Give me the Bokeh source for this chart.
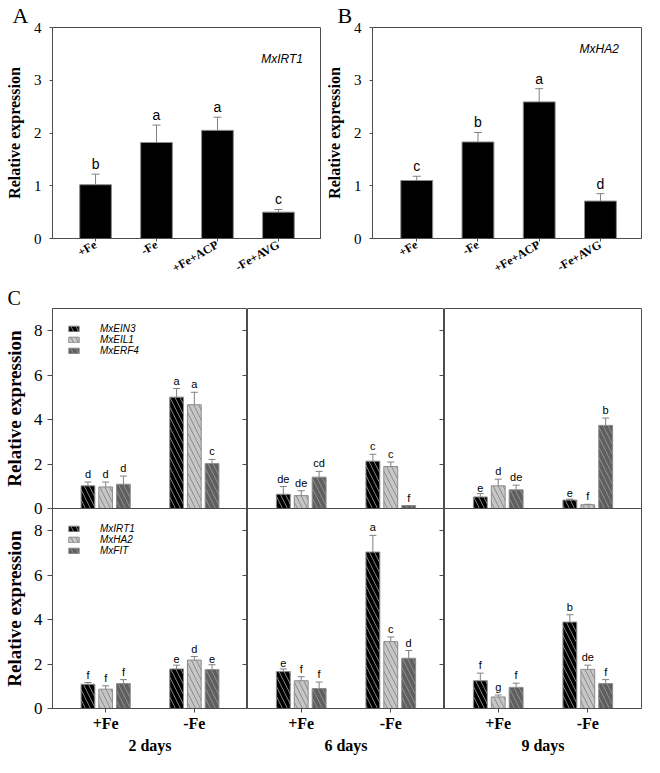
import math
from bokeh.plotting import figure
from bokeh.models import (Range1d, FixedTicker, LinearAxis, Whisker, TeeHead, Span,
                          ColumnDataSource, Label, Legend, LegendItem)
from bokeh.layouts import column, row
from bokeh.embed import file_html
from bokeh.resources import INLINE
from bokeh.core.properties import value

# ---------------- data: panels A and B ----------------
treatments = ["+Fe", "-Fe", "+Fe+ACP", "-Fe+AVG"]
irt1_mean = [1.02, 1.82, 2.05, 0.50]
irt1_se = [0.20, 0.33, 0.25, 0.05]
irt1_sig = ["b", "a", "a", "c"]
ha2_mean = [1.10, 1.83, 2.59, 0.71]
ha2_se = [0.08, 0.18, 0.25, 0.14]
ha2_sig = ["c", "b", "a", "d"]

# ---------------- data: panel C (rows = day, cols = +Fe, -Fe) ----------------
days = ["2 days", "6 days", "9 days"]
conditions = ["+Fe", "-Fe"]
eth_genes = ["MxEIN3", "MxEIL1", "MxERF4"]
ein3_mean = [[1.02, 5.01], [0.64, 2.13], [0.52, 0.38]]
ein3_se = [[0.17, 0.39], [0.35, 0.31], [0.15, 0.04]]
ein3_sig = [["d", "a"], ["de", "c"], ["e", "e"]]
eil1_mean = [[0.97, 4.67], [0.58, 1.89], [1.02, 0.17]]
eil1_se = [[0.22, 0.56], [0.22, 0.20], [0.30, 0.02]]
eil1_sig = [["d", "a"], ["de", "c"], ["d", "f"]]
erf4_mean = [[1.09, 2.02], [1.41, 0.13], [0.84, 3.74]]
erf4_se = [[0.37, 0.19], [0.26, 0.00], [0.21, 0.33]]
erf4_sig = [["d", "c"], ["cd", "f"], ["de", "b"]]

fe_genes = ["MxIRT1", "MxHA2", "MxFIT"]
irt1c_mean = [[1.09, 1.78], [1.66, 7.04], [1.25, 3.89]]
irt1c_se = [[0.08, 0.17], [0.12, 0.75], [0.34, 0.33]]
irt1c_sig = [["f", "e"], ["e", "a"], ["f", "b"]]
ha2c_mean = [[0.87, 2.18], [1.25, 3.01], [0.52, 1.76]]
ha2c_se = [[0.15, 0.16], [0.18, 0.21], [0.09, 0.19]]
ha2c_sig = [["f", "d"], ["f", "c"], ["g", "de"]]
fit_mean = [[1.12, 1.75], [0.90, 2.26], [0.95, 1.12]]
fit_se = [[0.18, 0.22], [0.29, 0.35], [0.19, 0.18]]
fit_sig = [["f", "e"], ["f", "d"], ["f", "f"]]
y_title = "Relative expression"

SANS = value("Liberation Sans")
FRAME = "#4d4d4d"
BAR_LINE = "#8c8c8c"
ERR = "#808080"
INK = "#000000"
fills = ["#000000", "#c6c6c6", "#5f5f5f"]
hatches = ["#7f7f7f", "#8c8c8c", "#8f8f8f"]


def style_title(p, text, size, offset):
    p.title.text = text
    p.title.align = "left"
    p.title.offset = offset
    p.title.standoff = 0
    p.title.text_font = "Liberation Serif"
    p.title.text_font_style = "normal"
    p.title.text_font_size = size
    p.title.text_color = INK


def base_axis(ax):
    ax.minor_tick_in = 0
    ax.minor_tick_out = 0
    ax.major_label_text_color = INK
    ax.axis_label_text_color = INK
    ax.axis_line_color = FRAME
    ax.major_tick_line_color = FRAME


def ab_panel(means, ses, sigs, gene, letter, bl, br, xr, gene_xy, letter_off):
    p = figure(width=322, height=284, x_range=Range1d(*xr), y_range=Range1d(0, 4),
               x_axis_location=None, y_axis_location=None,
               output_backend="svg", toolbar_location=None,
               min_border_left=bl, min_border_right=br, min_border_top=26,
               min_border_bottom=46)
    p.grid.grid_line_color = None
    p.outline_line_color = FRAME
    style_title(p, letter, "22px", letter_off)
    xs = list(range(len(treatments)))
    src = ColumnDataSource(dict(x=xs, top=means,
                                upper=[m + s for m, s in zip(means, ses)], sig=sigs))
    p.vbar(x="x", top="top", width=0.52, source=src, fill_color="#000000",
           line_color=BAR_LINE, line_width=1)
    p.add_layout(Whisker(base="x", lower="top", upper="upper", source=src,
                         line_color=ERR, lower_head=None,
                         upper_head=TeeHead(size=8, line_color=ERR), level="overlay"))
    p.text(x="x", y="upper", text="sig", source=src, text_font=SANS,
           text_font_size="14px", text_align="center", text_baseline="bottom",
           y_offset=-2, text_color=INK)
    ya = LinearAxis(ticker=FixedTicker(ticks=[0, 1, 2, 3, 4]), axis_label=y_title)
    base_axis(ya)
    ya.major_label_text_font = "Liberation Serif"
    ya.major_label_text_font_size = "15px"
    ya.axis_label_text_font = "Liberation Serif"
    ya.axis_label_text_font_style = "bold"
    ya.axis_label_text_font_size = "16px"
    ya.major_tick_in = 0
    ya.major_tick_out = 3
    ya.major_label_standoff = 8
    ya.axis_label_standoff = 8
    p.add_layout(ya, "left")
    xa = LinearAxis(ticker=FixedTicker(ticks=xs),
                    major_label_overrides={i: t for i, t in enumerate(treatments)})
    base_axis(xa)
    xa.major_label_orientation = math.pi / 6
    xa.major_label_text_font = "Liberation Serif"
    xa.major_label_text_font_style = "bold"
    xa.major_label_text_font_size = "12px"
    xa.major_tick_in = 0
    xa.major_tick_out = 3
    xa.major_label_standoff = 2
    p.add_layout(xa, "below")
    p.add_layout(Label(x=gene_xy[0], y=gene_xy[1], text=gene, text_font="Liberation Sans",
                       text_font_style="italic", text_font_size="12px", text_color=INK,
                       text_align="center", text_baseline="middle"))
    return p


pA = ab_panel(irt1_mean, irt1_se, irt1_sig, "MxIRT1", "A", 52, 2,
              (-0.706, 3.69), (3.06, 3.41), -40)
pB = ab_panel(ha2_mean, ha2_se, ha2_sig, "MxHA2", "B", 50, 3,
              (-0.722, 3.67), (2.98, 3.59), -35)

offsets = [-0.2, 0.0, 0.2]
ROW_SPAN = 9  # y extent of each stacked sub-panel of C
LEG_H = 34
FRAME_H = 402


def add_row(p, d, means, ses, sigs, shift):
    rends = []
    for j in range(3):
        xs = [g + offsets[j] for g in range(len(conditions))]
        m = means[j][d]
        s = ses[j][d]
        src = ColumnDataSource(dict(x=xs,
                                    bottom=[shift] * len(xs),
                                    top=[a + shift for a in m],
                                    upper=[a + b + shift for a, b in zip(m, s)],
                                    sig=sigs[j][d]))
        r = p.vbar(x="x", bottom="bottom", top="top", width=0.155, source=src,
                   fill_color=fills[j], line_color=BAR_LINE, line_width=1,
                   hatch_pattern="\\", hatch_color=hatches[j], hatch_scale=10,
                   hatch_weight=1)
        rends.append(r)
        p.add_layout(Whisker(base="x", lower="top", upper="upper", source=src,
                             line_color=ERR, lower_head=None,
                             upper_head=TeeHead(size=7, line_color=ERR), level="overlay"))
        p.text(x="x", y="upper", text="sig", source=src, text_font=SANS,
               text_font_size="11px", text_align="center", text_baseline="bottom",
               y_offset=-2, text_color=INK)
    return rends


def make_legend(genes, rends, loc):
    return Legend(items=[LegendItem(label=g, renderers=[r]) for g, r in zip(genes, rends)],
                  location=loc, margin=15, padding=0, spacing=-2,
                  glyph_width=13, glyph_height=7, label_height=8,
                  label_standoff=20, label_text_font_size="10px",
                  label_text_font_style="italic", label_text_font="Liberation Sans",
                  label_text_color=INK,
                  border_line_color=None, background_fill_alpha=0)


def c_column(d):
    left = d == 0
    last = d == 2
    bl = 50 if left else 0
    br = 3 if last else 0
    p = figure(width=bl + 197 + br, height=22 + FRAME_H + 49,
               x_range=Range1d(-0.6, 1.6), y_range=Range1d(0, 2 * ROW_SPAN),
               x_axis_location=None, y_axis_location=None,
               output_backend="svg", toolbar_location=None,
               min_border_left=bl, min_border_right=br, min_border_top=22,
               min_border_bottom=49)
    p.grid.grid_line_color = None
    p.outline_line_color = FRAME
    if left:
        style_title(p, "C", "20px", -45)
    r_fe = add_row(p, d, [irt1c_mean, ha2c_mean, fit_mean],
                   [irt1c_se, ha2c_se, fit_se], [irt1c_sig, ha2c_sig, fit_sig], 0)
    r_eth = add_row(p, d, [ein3_mean, eil1_mean, erf4_mean],
                    [ein3_se, eil1_se, erf4_se], [ein3_sig, eil1_sig, erf4_sig], ROW_SPAN)
    p.add_layout(Span(location=ROW_SPAN, dimension="width", line_color=FRAME,
                      line_width=1))
    sub_ticks = [0, 2, 4, 6, 8]
    all_ticks = sub_ticks + [t + ROW_SPAN for t in sub_ticks]
    labels = {t + ROW_SPAN: str(t) for t in sub_ticks}
    labels.update({t: str(t) for t in sub_ticks})
    if left:
        ya = LinearAxis(ticker=FixedTicker(ticks=all_ticks),
                        major_label_overrides=labels)
        base_axis(ya)
        ya.major_label_text_font = "Liberation Serif"
        ya.major_label_text_font_size = "17px"
        ya.major_tick_in = 0
        ya.major_tick_out = 5
        ya.major_label_standoff = 5
        p.add_layout(ya, "left")
        # one axis title per stacked sub-panel
        mids = [ROW_SPAN / 2, ROW_SPAN * 1.5]
        ta = LinearAxis(ticker=FixedTicker(ticks=mids),
                        major_label_overrides={m: y_title for m in mids})
        base_axis(ta)
        ta.major_label_orientation = "parallel"
        ta.major_label_text_font = "Liberation Serif"
        ta.major_label_text_font_style = "bold"
        ta.major_label_text_font_size = "19px"
        ta.major_label_standoff = 6
        ta.major_tick_in = 0
        ta.major_tick_out = 0
        ta.axis_line_color = None
        ta.major_tick_line_color = None
        p.add_layout(ta, "left")
        p.add_layout(make_legend(eth_genes, r_eth, "top_left"))
        p.add_layout(make_legend(fe_genes, r_fe, (15, FRAME_H / 2 - 15 - LEG_H)))
    if not last:
        ra = LinearAxis(ticker=FixedTicker(ticks=all_ticks))
        base_axis(ra)
        ra.major_tick_in = 5
        ra.major_tick_out = 0
        ra.major_label_text_font_size = "0px"
        ra.major_label_text_color = None
        ra.major_label_standoff = 0
        p.add_layout(ra, "right")
    xa = LinearAxis(ticker=FixedTicker(ticks=list(range(len(conditions)))),
                    major_label_overrides={i: c for i, c in enumerate(conditions)},
                    axis_label=days[d])
    base_axis(xa)
    xa.major_label_text_font = "Liberation Serif"
    xa.major_label_text_font_style = "bold"
    xa.major_label_text_font_size = "16px"
    xa.axis_label_text_font = "Liberation Serif"
    xa.axis_label_text_font_style = "bold"
    xa.axis_label_text_font_size = "16px"
    xa.major_tick_in = 0
    xa.major_tick_out = 4
    xa.major_label_standoff = 2
    xa.axis_label_standoff = 2
    p.add_layout(xa, "below")
    return p


cols = [c_column(d) for d in range(3)]
layout = column(row(pA, pB), row(*cols))
open("out.html", "w").write(file_html(layout, INLINE))
